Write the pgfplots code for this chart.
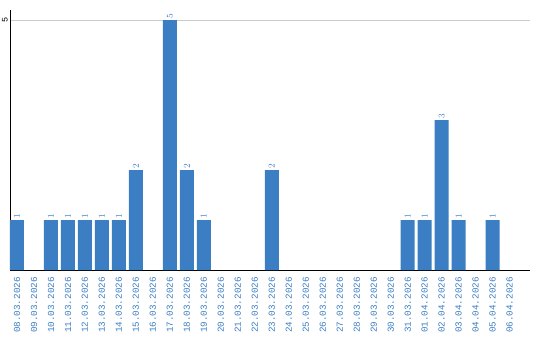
\documentclass[border=0pt]{standalone}
\usepackage{pgfplots}
\pgfplotsset{compat=1.18}
\usepackage{fontspec}
\setmainfont{Liberation Sans}
\newfontfamily\monof{Liberation Mono}
\definecolor{barblue}{RGB}{59,126,196}
\definecolor{gridgray}{RGB}{204,204,204}
\begin{document}
\begin{tikzpicture}
\useasboundingbox (0,0) rectangle (540bp,340bp);
\begin{axis}[
  at={(10bp,70bp)}, anchor=south west,
  scale only axis, width=520bp, height=260bp,
  xmin=-0.412, xmax=30.2, ymin=0, ymax=5.2,
  axis x line=bottom, axis y line=left,
  axis line style={-, black, line width=1bp},
  xtick={0,...,29},
  xticklabels={08.03.2026,09.03.2026,10.03.2026,11.03.2026,12.03.2026,13.03.2026,14.03.2026,15.03.2026,16.03.2026,17.03.2026,18.03.2026,19.03.2026,20.03.2026,21.03.2026,22.03.2026,23.03.2026,24.03.2026,25.03.2026,26.03.2026,27.03.2026,28.03.2026,29.03.2026,30.03.2026,31.03.2026,01.04.2026,02.04.2026,03.04.2026,04.04.2026,05.04.2026,06.04.2026},
  x tick label style={rotate=90, anchor=east, font=\monof\fontsize{9.3}{10}\selectfont, text=barblue, inner sep=0pt},
  xticklabel shift=7bp,
  ytick={5}, yticklabels={5},
  y tick label style={rotate=90, anchor=south, font=\monof\fontsize{8.5}{9}\selectfont, inner sep=0pt},
  yticklabel shift=2bp,
  major tick length=0pt,
  ymajorgrids, grid style={gridgray, line width=1bp},
  clip=false,
]
\addplot[ybar, bar width=14bp, fill=barblue, draw=none,
  nodes near coords,
  every node near coord/.append style={rotate=90, anchor=west, font=\monof\fontsize{9.5}{10}\selectfont, text=barblue, inner sep=1pt}]
coordinates {
(0,1) (2,1) (3,1) (4,1) (5,1) (6,1) (7,2) (9,5) (10,2) (11,1)
(15,2) (23,1) (24,1) (25,3) (26,1) (28,1)
};
\end{axis}
\end{tikzpicture}
\end{document}
